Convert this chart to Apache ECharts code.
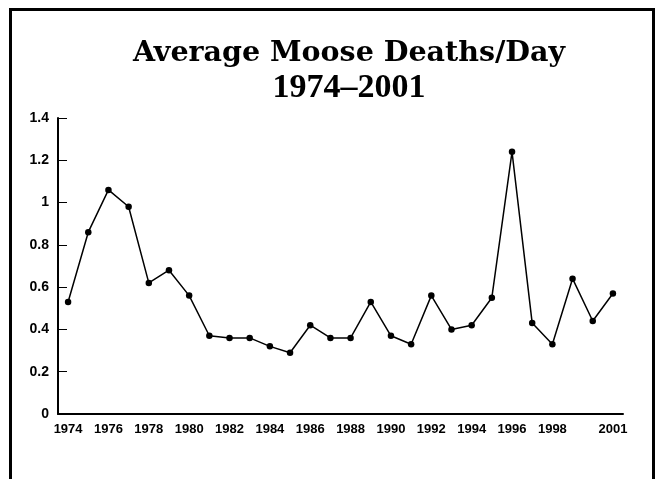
<!DOCTYPE html>
<html>
<head>
<meta charset="utf-8">
<script src="https://cdn.jsdelivr.net/npm/echarts@6/dist/echarts.min.js"></script>
<style>
  html, body { margin: 0; padding: 0; background: #fff; overflow: hidden; }
  #chart { width: 657px; height: 479px; }
</style>
</head>
<body>
<div id="chart"></div>
<script>
// datos
var years = ['1974','1975','1976','1977','1978','1979','1980','1981','1982','1983',
  '1984','1985','1986','1987','1988','1989','1990','1991','1992','1993',
  '1994','1995','1996','1997','1998','1999','2000','2001'];
var deathsPerDay = [0.53, 0.86, 1.06, 0.98, 0.62, 0.68, 0.56, 0.37, 0.36, 0.36,
  0.32, 0.29, 0.42, 0.36, 0.36, 0.53, 0.37, 0.33, 0.56, 0.40,
  0.42, 0.55, 1.24, 0.43, 0.33, 0.64, 0.44, 0.57];
var yearLabels = ['1974','1976','1978','1980','1982','1984','1986','1988',
  '1990','1992','1994','1996','1998','2001'];
var yTicks = [0, 0.2, 0.4, 0.6, 0.8, 1, 1.2, 1.4];

var chart = echarts.init(document.getElementById('chart'));

var option = {
  animation: false,
  backgroundColor: '#fff',
  title: {
    text: '{a|Average Moose Deaths/Day}\n{b|1974\u20132001}',
    left: 344,
    top: 32,
    textAlign: 'center',
    textStyle: {
      color: '#000',
      rich: {
        a: { fontFamily: 'DejaVu Serif', fontWeight: 'bold', fontSize: 28.5, lineHeight: 34, color: '#000' },
        b: { fontFamily: 'Liberation Serif', fontWeight: 'bold', fontSize: 34, lineHeight: 34, color: '#000' }
      }
    }
  },
  graphic: [{
    type: 'rect',
    silent: true,
    shape: { x: 10.5, y: 9.5, width: 643, height: 520 },
    style: { fill: 'none', stroke: '#000', lineWidth: 3 }
  }],
  grid: { left: 58, right: 34, top: 118, bottom: 65 },
  xAxis: {
    type: 'category',
    data: years,
    boundaryGap: true,
    axisLine: { lineStyle: { color: '#000', width: 2 } },
    axisTick: { show: false },
    axisLabel: {
      interval: function(idx, val) { return yearLabels.indexOf(val) >= 0; },
      margin: 9,
      color: '#000',
      fontFamily: 'Liberation Sans',
      fontWeight: 'bold',
      fontSize: 13
    },
    splitLine: { show: false }
  },
  yAxis: {
    type: 'value',
    min: yTicks[0],
    max: yTicks[yTicks.length - 1],
    interval: 0.2,
    axisLine: { show: true, lineStyle: { color: '#000', width: 2 } },
    axisTick: { show: true, inside: true, length: 9, lineStyle: { color: '#000', width: 1 } },
    axisLabel: {
      margin: 9,
      color: '#000',
      fontFamily: 'Liberation Sans',
      fontWeight: 'bold',
      fontSize: 14
    },
    splitLine: { show: false }
  },
  series: [
    {
      name: 'Moose deaths/day',
      type: 'line',
      data: deathsPerDay,
      symbol: 'circle',
      symbolSize: 6.5,
      itemStyle: { color: '#000' },
      lineStyle: { color: '#000', width: 1.5 }
    }
  ]
};

chart.setOption(option);
</script>
</body>
</html>
